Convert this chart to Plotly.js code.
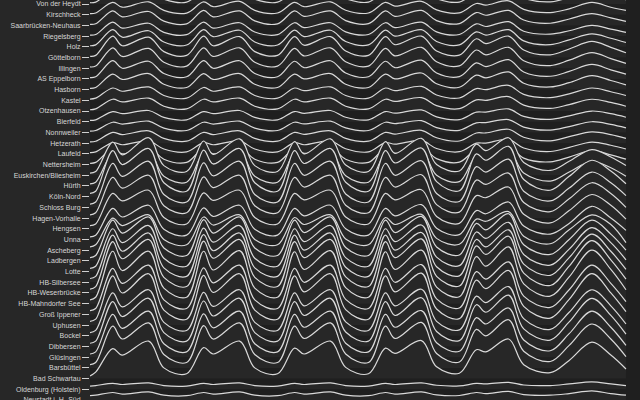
<!DOCTYPE html>
<html>
<head>
<meta charset="utf-8">
<script src="https://cdn.plot.ly/plotly-3.0.1.min.js"></script>
<style>
html,body{margin:0;padding:0;background:#1f1f1f;overflow:hidden;}
#chart{width:640px;height:430px;}
</style>
</head>
<body>
<div id="chart"></div>
<script>
// Hours since Monday 00:00 (Mon 01:30 ... Sat 23:00)
const hours = [1.5, 3, 7.5, 10, 17, 21,
  27, 31.5, 34, 41, 45,
  51, 55.5, 58, 65, 69,
  75, 79.5, 82, 89, 93,
  99, 103.5, 106, 112, 116,
  123, 128, 134, 139, 143];

// Counting stations along the A1, south to north
const stations = ["Von der Heydt","Kirschheck","Saarbrücken-Neuhaus","Riegelsberg","Holz","Göttelborn","Illingen","AS Eppelborn","Hasborn","Kastel","Otzenhausen","Bierfeld","Nonnweiler","Hetzerath","Laufeld","Nettersheim","Euskirchen/Bliesheim","Hürth","Köln-Nord","Schloss Burg","Hagen-Vorhalle","Hengsen","Unna","Ascheberg","Ladbergen","Lotte","HB-Silbersee","HB-Weserbrücke","HB-Mahndorfer See","Groß Ippener","Uphusen","Bockel","Dibbersen","Glüsingen","Barsbüttel","Bad Schwartau","Oldenburg (Holstein)","Neustadt i. H.-Süd"];

// Traffic per station (thousand vehicles / hour)
const vonDerHeydt = [0.12,0.18,1.2,0.85,1.3,0.45, 0.17,1.25,0.85,1.3,0.45, 0.17,1.2,0.9,1.3,0.5, 0.18,1.2,0.9,1.35,0.5, 0.18,1.1,1.0,1.4,0.55, 0.2,0.6,1.1,0.75,0.4];
const kirschheck = [0.1,0.16,1.15,0.7,1.2,0.4, 0.15,1.2,0.75,1.25,0.4, 0.16,1.15,0.75,1.2,0.42, 0.16,1.15,0.8,1.25,0.45, 0.17,1.05,0.9,1.3,0.5, 0.2,0.55,1.15,0.7,0.4];
const saarbrueckenNeuhaus = [0.1,0.15,1.35,0.8,1.3,0.4, 0.15,1.4,0.8,1.35,0.42, 0.15,1.35,0.85,1.35,0.45, 0.16,1.35,0.85,1.4,0.45, 0.17,1.2,0.95,1.4,0.5, 0.2,0.6,1.1,0.7,0.38];
const riegelsberg = [0.1,0.15,1.3,0.75,1.2,0.35, 0.14,1.3,0.75,1.25,0.38, 0.14,1.25,0.8,1.25,0.4, 0.15,1.25,0.8,1.3,0.4, 0.15,1.15,0.9,1.35,0.45, 0.18,0.5,1.0,0.65,0.35];
const holz = [0.1,0.18,1.6,0.9,1.5,0.45, 0.17,1.6,0.95,1.55,0.45, 0.17,1.55,0.95,1.55,0.5, 0.18,1.55,1.0,1.6,0.5, 0.18,1.4,1.1,1.6,0.55, 0.2,0.65,1.2,0.8,0.4];
const goettelborn = [0.12,0.2,2.0,1.1,1.9,0.55, 0.2,2.0,1.1,1.95,0.55, 0.2,1.95,1.15,1.95,0.6, 0.2,1.95,1.2,2.0,0.6, 0.22,1.75,1.3,2.0,0.7, 0.25,0.8,1.5,0.95,0.45];
const illingen = [0.12,0.2,1.9,1.1,1.85,0.55, 0.2,1.9,1.1,1.9,0.55, 0.2,1.85,1.15,1.9,0.6, 0.2,1.85,1.15,1.95,0.6, 0.22,1.7,1.25,1.95,0.7, 0.25,0.75,1.45,0.9,0.45];
const eppelborn = [0.12,0.2,1.7,1.0,1.65,0.5, 0.2,1.7,1.0,1.7,0.5, 0.2,1.65,1.05,1.7,0.55, 0.2,1.65,1.05,1.75,0.55, 0.22,1.5,1.15,1.8,0.65, 0.25,0.7,1.35,0.85,0.45];
const hasborn = [0.12,0.2,1.45,0.95,1.5,0.5, 0.2,1.5,0.95,1.5,0.5, 0.2,1.45,1.0,1.5,0.5, 0.2,1.45,1.0,1.55,0.55, 0.22,1.35,1.1,1.65,0.6, 0.25,0.65,1.3,0.85,0.45];
const kastel = [0.12,0.2,1.15,0.85,1.25,0.45, 0.2,1.2,0.85,1.25,0.45, 0.2,1.15,0.9,1.25,0.45, 0.2,1.15,0.9,1.3,0.5, 0.22,1.1,1.0,1.4,0.55, 0.25,0.6,1.15,0.8,0.45];
const otzenhausen = [0.12,0.2,1.1,0.85,1.2,0.45, 0.2,1.1,0.85,1.2,0.45, 0.2,1.1,0.85,1.2,0.45, 0.2,1.1,0.9,1.25,0.5, 0.22,1.05,1.0,1.35,0.55, 0.25,0.6,1.1,0.8,0.45];
const bierfeld = [0.12,0.18,0.95,0.75,1.05,0.4, 0.18,0.95,0.75,1.05,0.4, 0.18,0.95,0.78,1.05,0.42, 0.18,0.95,0.8,1.1,0.45, 0.2,0.9,0.9,1.2,0.5, 0.22,0.55,1.0,0.75,0.42];
const nonnweiler = [0.12,0.18,0.95,0.78,1.05,0.4, 0.18,0.95,0.78,1.05,0.4, 0.18,0.95,0.8,1.05,0.42, 0.18,0.95,0.82,1.1,0.45, 0.2,0.9,0.92,1.2,0.5, 0.22,0.55,1.0,0.75,0.42];
const hetzerath = [0.12,0.18,1.0,0.8,1.15,0.45, 0.18,1.0,0.8,1.15,0.45, 0.18,1.0,0.82,1.15,0.45, 0.18,1.0,0.85,1.2,0.5, 0.2,0.95,0.95,1.3,0.55, 0.22,0.6,1.05,0.8,0.45];
const laufeld = [0.12,0.18,1.05,0.85,1.2,0.45, 0.18,1.05,0.85,1.2,0.45, 0.18,1.05,0.85,1.2,0.48, 0.18,1.05,0.9,1.25,0.5, 0.2,1.0,1.0,1.35,0.55, 0.22,0.6,1.1,0.8,0.45];
const nettersheim = [0.12,0.2,1.5,1.0,1.6,0.5, 0.2,1.5,1.0,1.6,0.5, 0.2,1.5,1.05,1.6,0.5, 0.2,1.5,1.05,1.65,0.55, 0.22,1.4,1.15,1.7,0.6, 0.25,0.7,1.3,0.9,0.5];
const euskirchen = [0.2,0.35,3.1,1.9,3.5,0.9, 0.35,3.2,1.95,3.4,0.9, 0.35,3.15,2.0,3.4,0.95, 0.35,3.15,2.05,3.45,1.0, 0.4,2.9,2.3,3.5,1.2, 0.45,1.3,2.4,1.7,0.9];
const huerth = [0.2,0.35,3.0,2.0,3.2,0.9, 0.35,3.05,2.05,3.2,0.9, 0.35,3.0,2.1,3.2,0.95, 0.35,3.0,2.1,3.25,1.0, 0.4,2.8,2.3,3.3,1.2, 0.45,1.3,2.3,1.7,0.9];
const koelnNord = [0.3,0.5,4.3,3.0,4.5,1.3, 0.5,4.35,3.05,4.5,1.3, 0.5,4.3,3.1,4.5,1.35, 0.5,4.3,3.15,4.55,1.4, 0.55,4.0,3.4,4.7,1.6, 0.6,1.9,3.4,2.4,1.2];
const schlossBurg = [0.3,0.5,4.1,2.9,4.3,1.2, 0.5,4.15,2.95,4.3,1.2, 0.5,4.1,3.0,4.3,1.25, 0.5,4.1,3.0,4.35,1.3, 0.55,3.8,3.3,4.5,1.5, 0.6,1.8,3.3,2.3,1.1];
const hagenVorhalle = [0.3,0.5,3.8,2.8,4.0,1.15, 0.5,3.85,2.85,4.0,1.15, 0.5,3.8,2.9,4.0,1.2, 0.5,3.8,2.9,4.05,1.25, 0.55,3.55,3.15,4.2,1.45, 0.6,1.8,3.3,2.3,1.0];
const hengsen = [0.3,0.45,3.3,2.6,3.6,1.05, 0.45,3.35,2.65,3.6,1.05, 0.45,3.3,2.7,3.6,1.1, 0.45,3.3,2.7,3.65,1.15, 0.5,3.1,2.9,3.9,1.35, 0.55,1.7,3.2,2.2,0.9];
const unna = [0.25,0.4,2.9,2.1,3.2,0.95, 0.4,2.95,2.15,3.2,0.95, 0.4,2.9,2.2,3.2,1.0, 0.4,2.9,2.2,3.25,1.05, 0.45,2.7,2.4,3.5,1.25, 0.5,1.5,3.1,2.0,0.85];
const ascheberg = [0.3,0.5,3.0,2.3,3.3,1.0, 0.5,3.1,2.35,3.3,1.0, 0.5,3.05,2.4,3.3,1.05, 0.5,3.05,2.4,3.35,1.1, 0.55,2.9,2.7,3.6,1.3, 0.6,1.9,3.3,2.4,0.7];
const ladbergen = [0.3,0.5,3.8,2.6,4.1,1.2, 0.5,3.85,2.6,4.1,1.2, 0.5,3.8,2.65,4.1,1.25, 0.5,3.8,2.65,4.15,1.3, 0.55,3.5,2.9,4.4,1.5, 0.6,2.0,3.8,2.5,1.0];
const lotte = [0.3,0.5,4.0,2.7,4.3,1.25, 0.5,4.05,2.75,4.3,1.25, 0.5,4.0,2.8,4.3,1.3, 0.5,4.0,2.8,4.35,1.35, 0.55,3.7,3.1,4.6,1.6, 0.6,2.1,4.1,2.7,1.1];
const hbSilbersee = [0.35,0.55,4.4,2.9,4.6,1.35, 0.55,4.45,2.95,4.6,1.35, 0.55,4.4,3.0,4.6,1.4, 0.55,4.4,3.0,4.65,1.45, 0.6,4.0,3.3,4.9,1.7, 0.65,2.3,4.5,2.9,1.2];
const hbWeserbruecke = [0.35,0.6,4.8,3.2,5.0,1.45, 0.6,4.85,3.25,5.0,1.45, 0.6,4.8,3.3,5.0,1.5, 0.6,4.8,3.3,5.05,1.55, 0.65,4.4,3.6,5.3,1.85, 0.7,2.5,4.9,3.1,1.3];
const hbMahndorf = [0.35,0.6,4.9,3.1,4.9,1.45, 0.6,4.9,3.15,4.95,1.45, 0.6,4.85,3.2,4.95,1.5, 0.6,4.85,3.2,5.0,1.55, 0.65,4.4,3.5,5.3,1.85, 0.7,2.5,5.0,3.2,1.3];
const grossIppener = [0.35,0.55,4.3,2.9,4.6,1.35, 0.55,4.35,2.95,4.6,1.35, 0.55,4.3,3.0,4.6,1.4, 0.55,4.3,3.0,4.65,1.45, 0.6,4.0,3.3,4.9,1.7, 0.65,2.3,4.6,2.9,1.2];
const uphusen = [0.35,0.55,4.6,3.0,4.8,1.4, 0.55,4.65,3.05,4.8,1.4, 0.55,4.6,3.1,4.8,1.45, 0.55,4.6,3.1,4.85,1.5, 0.6,4.2,3.4,5.1,1.75, 0.65,2.4,4.8,3.0,1.25];
const bockel = [0.3,0.5,4.0,2.7,4.3,1.25, 0.5,4.05,2.75,4.3,1.25, 0.5,4.0,2.8,4.3,1.3, 0.5,4.0,2.8,4.35,1.35, 0.55,3.7,3.1,4.6,1.6, 0.6,2.2,4.3,2.8,1.1];
const dibbersen = [0.3,0.5,4.2,2.8,4.5,1.3, 0.5,4.25,2.85,4.5,1.3, 0.5,4.2,2.9,4.5,1.35, 0.5,4.2,2.9,4.55,1.4, 0.55,3.9,3.2,4.8,1.65, 0.6,2.3,4.5,2.9,1.15];
const gluesingen = [0.3,0.5,4.0,2.7,4.3,1.25, 0.5,4.05,2.75,4.3,1.25, 0.5,4.0,2.8,4.3,1.3, 0.5,4.0,2.8,4.35,1.35, 0.55,3.7,3.1,4.6,1.6, 0.6,2.2,4.3,2.8,1.1];
const barsbuettel = [0.3,0.5,3.9,2.7,4.2,1.25, 0.5,3.95,2.7,4.2,1.25, 0.5,3.9,2.75,4.2,1.3, 0.5,3.9,2.75,4.25,1.35, 0.55,3.6,3.0,4.5,1.55, 0.6,2.1,4.1,2.7,1.05];
const badSchwartau = [0.25,0.6,2.8,2.2,3.5,1.0, 0.45,2.9,2.3,3.5,1.0, 0.45,2.85,2.3,3.5,1.05, 0.45,2.85,2.35,3.55,1.1, 0.5,2.7,2.5,3.7,1.3, 0.55,1.7,3.4,2.2,0.9];
const oldenburg = [0.3,0.35,0.55,0.45,0.6,0.35, 0.3,0.55,0.45,0.6,0.35, 0.3,0.55,0.45,0.6,0.35, 0.3,0.55,0.45,0.6,0.38, 0.32,0.55,0.5,0.65,0.4, 0.35,0.5,0.7,0.5,0.35];
const neustadt = [0.4,0.45,0.7,0.55,0.75,0.45, 0.4,0.7,0.55,0.75,0.45, 0.4,0.7,0.55,0.75,0.45, 0.4,0.7,0.55,0.75,0.48, 0.42,0.7,0.6,0.8,0.5, 0.45,0.6,0.85,0.6,0.45];

const series = [vonDerHeydt,kirschheck,saarbrueckenNeuhaus,riegelsberg,holz,goettelborn,illingen,eppelborn,hasborn,kastel,otzenhausen,bierfeld,nonnweiler,hetzerath,laufeld,nettersheim,euskirchen,huerth,koelnNord,schlossBurg,hagenVorhalle,hengsen,unna,ascheberg,ladbergen,lotte,hbSilbersee,hbWeserbruecke,hbMahndorf,grossIppener,uphusen,bockel,dibbersen,gluesingen,barsbuettel,badSchwartau,oldenburg,neustadt];

const N = stations.length;
const traces = [];
const offsets = [];
for (let i = 0; i < N; i++) {
  const off = N - 1 - i;
  offsets.push(off);
  traces.push({x: hours, y: hours.map(() => off), mode: 'lines', line: {width: 0, color: 'rgba(0,0,0,0)'}, hoverinfo: 'skip', showlegend: false});
  traces.push({x: hours, y: series[i].map(v => v + off), mode: 'lines', fill: 'tonexty', fillcolor: '#272727',
    line: {color: '#d9d9d9', width: 1.2, shape: 'spline', smoothing: 1}, showlegend: false, name: stations[i]});
}

const pxPerUnit = 10.7;
const layout = {
  width: 640, height: 430,
  margin: {l: 90, r: 0, t: 0, b: 20},
  paper_bgcolor: '#272727',
  plot_bgcolor: '#1f1f1f',
  showlegend: false,
  xaxis: {range: [1.5, 146.7], showgrid: false, zeroline: false, showticklabels: false, ticks: '', showline: false},
  yaxis: {range: [-10 / pxPerUnit, N - 1 + 4 / pxPerUnit], tickvals: offsets, ticktext: stations,
    ticklabeloverflow: 'allow',
    showgrid: false, zeroline: false, showline: false, ticks: 'outside', ticklen: 7, tickwidth: 1, tickcolor: '#d0d0d0',
    tickfont: {family: 'Liberation Sans, Arial, sans-serif', size: 7, color: '#d6d6d6'}}
};
Plotly.newPlot('chart', traces, layout, {displayModeBar: false, staticPlot: true});
</script>
</body>
</html>
